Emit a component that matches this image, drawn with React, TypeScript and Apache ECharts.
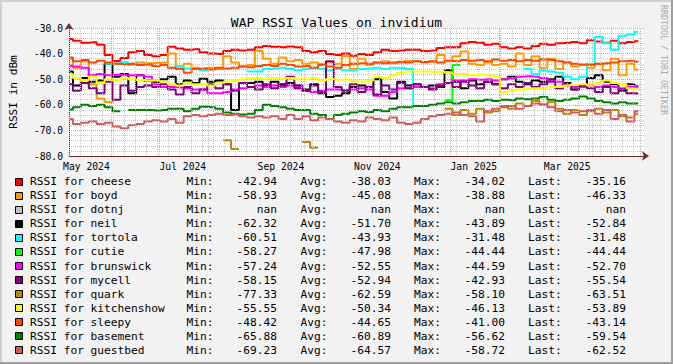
import React, { useEffect, useRef } from "react";
import * as echarts from "echarts";

const DAY = 86400000;
const START = Date.UTC(2024, 4, 5);
const END = START + 363.6 * DAY;
const SAMPLE_DAYS = 5;

const names = ["cheese", "boyd", "dotnj", "neil", "tortola", "cutie", "brunswick", "mycell", "quark", "kitchenshow", "sleepy", "basement", "guestbed"];
const colors = ["#ff0000", "#ff9900", "#c0c0c0", "#000000", "#00ffff", "#00ff00", "#ff00ff", "#800080", "#b8860b", "#ffff00", "#ff4500", "#008000", "#cd5c5c"];

const mins = [-42.94, -58.93, NaN, -62.32, -60.51, -58.27, -57.24, -58.15, -77.33, -55.55, -48.42, -65.88, -69.23];
const avgs = [-38.03, -45.08, NaN, -51.70, -43.93, -47.98, -52.55, -52.94, -62.59, -50.34, -44.65, -60.89, -64.57];
const maxs = [-34.02, -38.88, NaN, -43.89, -31.48, -44.44, -44.59, -42.93, -58.10, -46.13, -41.00, -56.62, -58.72];
const lasts = [-35.16, -46.33, NaN, -52.84, -31.48, -44.44, -52.70, -55.54, -63.51, -53.89, -43.14, -59.54, -62.52];

const xTickTimes = [Date.UTC(2024, 4, 16), Date.UTC(2024, 6, 16), Date.UTC(2024, 8, 16), Date.UTC(2024, 10, 16), Date.UTC(2025, 0, 16), Date.UTC(2025, 2, 16)];
const xTickLabels = ["May 2024", "Jul 2024", "Sep 2024", "Nov 2024", "Jan 2025", "Mar 2025"];

const N = null;

const cheese = [-34.3, -35.0, -35.8, -35.6, -36.5, -40.5, -42.9, -41.7, -39.5, -39.0,
  -40.5, -41.0, -40.5, -37.3, -38.0, -38.5, -38.3, -39.5, -40.0, -40.2,
  -39.0, -38.5, -38.8, -38.5, -37.5, -37.0, -37.3, -37.5, -37.2, -37.5,
  -39.0, -39.5, -39.0, -40.2, -40.5, -40.0, -40.8, -40.2, -40.5, -39.5,
  -38.5, -39.0, -38.8, -38.5, -38.5, -39.0, -38.8, -37.8, -37.5, -37.5,
  -36.0, -35.5, -35.8, -36.5, -36.2, -37.5, -38.0, -37.5, -38.0, -37.0,
  -36.2, -36.5, -36.0, -35.8, -35.5, -36.0, -34.8, -35.3, -35.8, -35.0,
  -36.0, -35.5, -35.16];

const boyd = [-42.0, -45.5, -43.0, -52.0, -57.5, -58.9, -44.0, -43.5, -44.0, -43.5,
  -43.8, -43.7, -43.5, -40.0, -45.0, -44.0, -45.5, -46.0, -45.5, -46.0,
  -41.0, -43.5, -45.0, -44.5, -39.0, -42.0, -44.0, -41.5, -43.0, -42.5,
  -44.0, -43.5, -44.0, -43.5, -44.0, -41.0, -46.0, -42.0, -44.5, -43.5,
  -43.0, -43.8, -43.5, -42.8, -43.0, -43.5, -43.2, -40.5, -43.0, -41.0,
  -39.2, -44.0, -44.5, -43.5, -44.5, -44.0, -45.0, -40.0, -44.5, -41.0,
  -45.5, -42.0, -46.0, -43.5, -45.0, -44.5, -45.5, -44.0, -46.5, -42.0,
  -48.5, -44.0, -46.33];

const dotnj: (number | null)[] = [];

const neil = [-47.0, -52.5, -49.5, -51.0, -50.5, -44.0, -49.0, -48.0, -55.5, -48.5,
  -50.5, -51.0, -50.0, -49.0, -52.0, -50.5, -51.5, -49.8, -51.0, -50.5,
  -52.0, -62.0, -51.5, -51.5, -51.0, -52.5, -51.0, -52.0, -51.5, -52.5,
  -54.0, -52.0, -55.5, -57.0, -56.5, -55.5, -53.0, -52.5, -53.0, -50.0,
  -55.0, -57.5, -51.0, -52.5, -52.0, -53.0, -52.5, -53.0, -46.5, -51.0,
  -53.5, -50.5, -52.0, -51.0, -52.0, -50.0, -49.0, -51.0, -52.0, -50.5,
  -51.0, -50.0, -49.0, -51.5, -54.0, -53.0, -49.5, -48.5, -51.0, -52.0,
  -54.5, -52.0, -52.84];

const tortola = [N, N, N, N, N, -44.0, -44.0, -43.5, -44.5, -44.0,
  N, N, N, -45.5, -45.0, -45.8, -46.0, -46.5, N, N,
  N, N, N, -47.0, -47.0, -46.0, -45.8, -45.5, -46.0, -46.5,
  -46.0, -45.5, -46.0, -46.5, -46.0, -46.5, -46.5, -46.0, -45.8, -45.5,
  -46.0, -45.5, -45.5, -46.0, -60.5, N, N, N, N, N,
  N, N, N, N, N, N, N, N, -46.0, -48.0,
  -46.5, -47.0, -47.5, -49.0, -50.0, -49.0, -44.0, -33.5, -36.0, -38.5,
  -33.0, -32.5, -31.48];

const cutie = [N, N, N, N, N, N, N, N, N, N,
  N, N, N, N, N, N, N, N, N, N,
  N, N, N, N, N, N, N, N, N, N,
  N, N, N, N, N, N, N, N, N, N,
  N, N, N, N, N, N, N, N, -58.27, -44.44,
  N, N, N, N, N, N, N, N, N, N,
  N, N, N, N, N, N, N, N, N, N,
  N, N, N];

const brunswick = [-44.7, -45.0, -45.5, -48.5, -48.0, -48.5, -48.3, -48.5, -48.5, -48.5,
  -49.0, -52.0, -53.0, -53.0, -53.2, -53.5, -54.0, -54.0, -55.5, -55.5,
  -55.0, -54.0, -53.5, -53.0, -52.5, -53.0, -52.5, -53.0, -52.5, -53.0,
  -54.5, -55.0, -54.5, -54.0, -54.0, -54.3, -54.0, -53.5, -54.0, -56.5,
  -56.5, -55.0, -53.5, -53.5, -53.0, -53.0, -53.5, -52.0, -51.5, -50.5,
  -50.5, -50.0, -50.2, -50.0, -50.5, -50.0, -49.5, -49.0, -48.8, -49.0,
  -49.5, -50.5, -51.0, -52.5, -53.0, -53.0, -52.5, -53.0, -52.5, -53.0,
  -53.5, -53.0, -52.70];

const mycell = [-52.0, -54.5, -51.5, -53.5, -55.5, -51.0, -58.0, -52.5, -54.5, -53.0,
  -52.5, -53.0, -52.0, -54.0, -56.0, -53.0, -55.5, -54.0, -52.0, -53.5,
  -52.0, -54.5, -51.5, -53.0, -54.0, -52.0, -53.5, -52.5, -49.0, -53.5,
  -54.5, -52.5, -55.0, -43.0, -53.0, -54.5, -52.0, -55.0, -53.0, -56.0,
  -52.5, -54.0, -51.5, -53.5, -52.0, -53.0, -54.0, -52.5, -51.5, -53.0,
  -51.0, -52.5, -53.5, -51.0, -52.0, -53.5, -52.0, -53.0, -51.5, -53.0,
  -52.0, -51.0, -53.5, -52.0, -54.0, -52.5, -53.5, -55.0, -53.0, -55.5,
  -54.0, -55.5, -55.54];

const quark = [N, N, N, N, N, N, N, N, N, N,
  N, N, N, N, N, N, N, N, N, N,
  -73.8, -77.3, N, N, N, N, N, N, N, N,
  -74.5, -76.8, N, N, N, N, N, N, N, N,
  N, N, N, N, N, N, N, N, -61.5, -64.0,
  -62.0, -63.5, -61.5, -63.0, -62.5, -60.5, -61.5, -59.5, -60.5, -58.5,
  -60.0, -59.0, -61.5, -63.5, -62.0, -64.0, -62.5, -61.5, -63.0, -62.0,
  -64.5, -65.0, -63.51];

const kitchenshow = [-48.0, -49.5, -50.5, -49.0, -51.5, -50.0, -50.5, -49.5, -50.0, -50.3,
  -50.5, -50.5, -51.0, -52.0, -52.5, -51.5, -52.0, -52.0, -52.5, -51.5,
  -51.0, -50.5, -50.0, -49.5, -49.5, -50.0, -49.5, -49.8, -49.5, -50.0,
  -50.0, -49.5, -50.5, -50.0, -50.2, -50.0, -50.8, -51.0, -50.5, -49.0,
  -49.5, -48.5, -47.5, -47.0, -47.0, -47.0, -47.2, -47.0, -47.5, -48.0,
  -48.0, -48.5, -48.3, -48.5, -48.8, -55.0, -54.5, -54.0, -53.8, -53.5,
  -53.5, -53.0, -53.0, -52.5, -52.0, -52.0, -52.5, -51.5, -50.5, -51.5,
  -52.0, -53.5, -53.89];

const sleepy = [-41.5, -43.0, -42.5, -43.5, -42.8, -43.5, -44.0, -44.2, -44.0, -44.5,
  -44.3, -44.8, -44.5, -45.5, -46.0, -47.5, -46.0, -45.8, -46.2, -45.5,
  -45.8, -45.5, -45.0, -45.3, -44.8, -44.5, -44.8, -44.0, -44.5, -45.0,
  -44.8, -45.5, -44.5, -45.0, -45.5, -44.5, -44.0, -43.8, -44.0, -43.5,
  -43.8, -43.5, -43.2, -43.5, -43.0, -43.3, -43.0, -43.5, -42.8, -43.0,
  -42.5, -42.8, -42.5, -43.0, -42.3, -42.8, -42.5, -43.0, -42.5, -42.8,
  -42.3, -42.5, -43.0, -43.5, -44.0, -44.3, -44.5, -44.0, -43.8, -43.5,
  -43.0, -42.8, -43.14];

const basement = [-61.8, -61.0, -60.0, -60.5, -60.0, -61.0, -62.5, N, -62.0, -62.0,
  -62.0, -62.2, -62.0, -61.5, -61.5, -62.5, -61.5, -60.8, -61.0, -61.5,
  -63.0, -63.5, -63.8, -63.5, -62.0, -60.0, -60.5, -61.0, -61.5, -62.0,
  -62.0, -63.5, -64.0, -65.5, -64.0, -63.5, -63.0, -62.5, -62.8, -62.0,
  -62.5, -61.5, -61.0, -61.0, -60.5, -60.5, -60.0, -59.5, -59.0, -59.5,
  -59.0, -58.5, -58.5, -58.0, -58.5, -58.0, -58.2, -57.5, -57.8, -57.5,
  -57.0, -58.0, -58.5, -58.0, -57.5, -56.8, -57.5, -58.5, -59.0, -59.5,
  -59.0, -59.5, -59.54];

const guestbed = [-65.5, -67.5, -67.0, -66.5, -67.5, -67.0, -68.5, -69.2, -68.0, -67.5,
  -66.5, -66.0, -66.5, -65.5, -67.0, -64.5, -64.0, -64.5, -64.0, -63.5,
  -64.0, -63.8, -64.5, -65.0, -64.5, -65.0, -64.5, -65.5, -64.0, -65.5,
  -64.5, -66.0, -65.0, -65.5, -66.5, -67.0, -66.0, -66.5, -65.0, -65.5,
  -66.0, -65.0, -67.0, -67.5, -67.0, -65.5, -64.5, -64.0, -63.5, -63.0,
  -64.0, -64.5, -66.5, -62.5, -61.5, -61.0, -60.5, -61.5, -60.5, -59.5,
  -59.8, -61.0, -62.5, -62.0, -63.0, -62.5, -62.0, -63.5, -62.0, -65.5,
  -64.0, -66.5, -62.52];

const seriesValues = [cheese, boyd, dotnj, neil, tortola, cutie, brunswick, mycell, quark, kitchenshow, sleepy, basement, guestbed];

const MONO = '"DejaVu Sans Mono", monospace';

function fmt(v: number) {
  return isNaN(v) ? "nan" : v.toFixed(2);
}

function buildOption() {
  const monthLines: number[] = [];
  for (let m = 5; m <= 16; m++) {
    const t = Date.UTC(2024, m, 1);
    if (t > START && t < END) monthLines.push(t);
  }
  const weekLines: number[] = [];
  for (let t = START; t < END; t += 7 * DAY) weekLines.push(t);

  const gridSeries: any = {
    type: "line",
    name: "grid",
    data: [],
    silent: true,
    z: 1,
    markLine: {
      silent: true,
      symbol: ["none", "none"],
      label: { show: false },
      emphasis: { disabled: true },
      data: [
        ...weekLines.map((t) => ({ xAxis: t, lineStyle: { color: "#c4c4c4", type: [1, 1], width: 1 } })),
        ...monthLines.map((t) => ({ xAxis: t, lineStyle: { color: "#ec9a9a", type: [1, 1], width: 1 } })),
      ],
    },
  };

  const lineSeries = seriesValues.map((vals, k) => ({
    type: "line",
    name: "RSSI for " + names[k],
    data: vals.map((v, i) => [START + i * SAMPLE_DAYS * DAY, v]),
    step: "middle",
    showSymbol: false,
    symbol: "none",
    connectNulls: false,
    silent: true,
    z: 2,
    lineStyle: { width: 2, color: colors[k] },
    itemStyle: { color: colors[k] },
    emphasis: { disabled: true },
  }));

  const legendChildren: any[] = [];
  names.forEach((name, k) => {
    const y = 181.7 + k * 14.05;
    const ty = (s: string, x: number, align: string) => ({
      type: "text",
      x,
      y,
      silent: true,
      style: {
        text: s,
        font: `11.2px ${MONO}`,
        fill: "#000",
        textAlign: align,
        align,
        textVerticalAlign: "middle",
        verticalAlign: "middle",
      },
    });
    legendChildren.push({
      type: "rect",
      silent: true,
      shape: { x: 15.5, y: Math.round(y) - 3.5, width: 7, height: 7 },
      style: { fill: colors[k], stroke: "#000", lineWidth: 1 },
    });
    legendChildren.push(ty("RSSI for " + name, 30, "left"));
    legendChildren.push(ty("Min:", 186.5, "left"));
    legendChildren.push(ty(fmt(mins[k]), 277, "right"));
    legendChildren.push(ty("Avg:", 300.5, "left"));
    legendChildren.push(ty(fmt(avgs[k]), 391, "right"));
    legendChildren.push(ty("Max:", 414, "left"));
    legendChildren.push(ty(fmt(maxs[k]), 505, "right"));
    legendChildren.push(ty("Last:", 528, "left"));
    legendChildren.push(ty(fmt(lasts[k]), 626, "right"));
  });

  return {
    animation: false,
    backgroundColor: "#f2f2f2",
    title: {
      text: "WAP RSSI Values on invidium",
      left: "center",
      top: 11,
      textStyle: { fontFamily: MONO, fontSize: 13, fontWeight: "normal", color: "#000" },
    },
    grid: {
      left: 67,
      right: 29,
      top: 28,
      bottom: 208,
      show: true,
      backgroundColor: "#ffffff",
      borderWidth: 0,
    },
    xAxis: {
      type: "value",
      min: START,
      max: END,
      axisLine: {
        show: true,
        onZero: false,
        symbol: ["none", "arrow"],
        symbolSize: [7, 7],
        symbolOffset: [0, 5],
        lineStyle: { color: "#6f2a2a", width: 1 },
      },
      axisTick: { show: false },
      splitLine: { show: false },
      axisLabel: {
        customValues: xTickTimes,
        formatter: (v: number) => {
          const idx = xTickTimes.indexOf(v);
          return idx >= 0 ? xTickLabels[idx] : "";
        },
        fontFamily: MONO,
        fontSize: 9.7,
        color: "#000",
        margin: 5,
      },
    },
    yAxis: {
      type: "value",
      min: -80,
      max: -30,
      interval: 10,
      name: "RSSI in dBm",
      nameLocation: "middle",
      nameRotate: 90,
      nameGap: 50,
      nameTextStyle: { fontFamily: MONO, fontSize: 11.1, color: "#000" },
      axisLine: {
        show: true,
        symbol: ["none", "arrow"],
        symbolSize: [7, 7],
        symbolOffset: [0, 5],
        lineStyle: { color: "#6f2a2a", width: 1 },
      },
      axisTick: { show: false },
      axisLabel: {
        formatter: (v: number) => v.toFixed(1),
        fontFamily: MONO,
        fontSize: 9.7,
        color: "#000",
        margin: 6,
      },
      splitLine: { show: true, lineStyle: { color: "#ec9a9a", type: [1, 1], width: 1 } },
      minorTick: { show: false, splitNumber: 5 },
      minorSplitLine: { show: true, lineStyle: { color: "#c4c4c4", type: [1, 1], width: 1 } },
    },
    series: [gridSeries, ...lineSeries],
    graphic: [
      { type: "rect", silent: true, shape: { x: 0, y: 0, width: 673, height: 2 }, style: { fill: "#cfcfcf" } },
      { type: "rect", silent: true, shape: { x: 0, y: 0, width: 2, height: 364 }, style: { fill: "#cfcfcf" } },
      { type: "rect", silent: true, shape: { x: 0, y: 362, width: 673, height: 2 }, style: { fill: "#9e9e9e" } },
      { type: "rect", silent: true, shape: { x: 671, y: 0, width: 2, height: 364 }, style: { fill: "#9e9e9e" } },
      {
        type: "text",
        x: 663.5,
        y: 60,
        rotation: -Math.PI / 2,
        silent: true,
        style: {
          text: "RRDTOOL / TOBI OETIKER",
          font: `8.3px ${MONO}`,
          fill: "#a8a8a8",
          textAlign: "center",
          align: "center",
          textVerticalAlign: "middle",
          verticalAlign: "middle",
        },
      },
      { type: "group", children: legendChildren },
    ],
  };
}

export default function App() {
  const ref = useRef<HTMLDivElement>(null);
  useEffect(() => {
    if (!ref.current) return;
    const chart = echarts.init(ref.current, undefined, { renderer: "svg" });
    chart.setOption(buildOption() as any);
    return () => chart.dispose();
  }, []);
  return (
    <div
      ref={ref}
      style={{ position: "fixed", left: 0, top: 0, width: 673, height: 364, background: "#f2f2f2" }}
    />
  );
}
